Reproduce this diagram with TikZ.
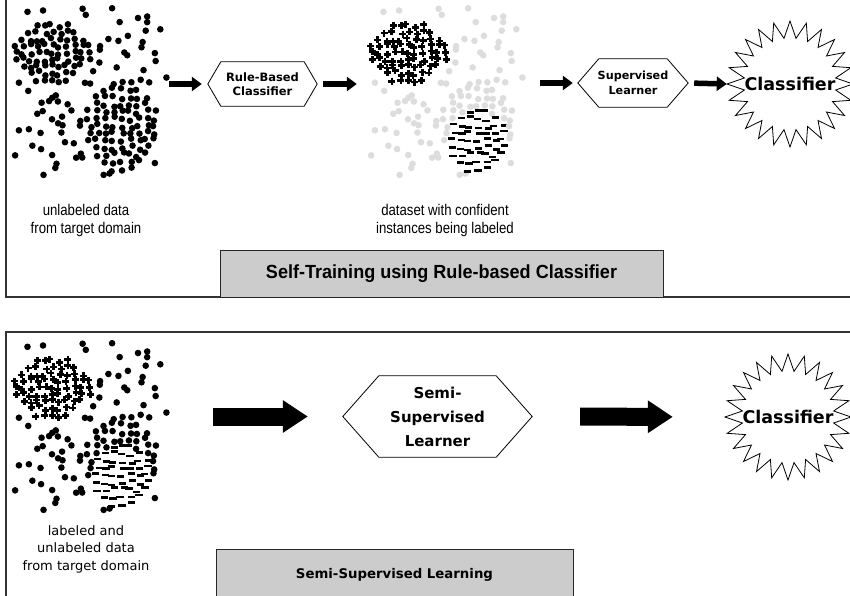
\documentclass[tikz,border=0pt]{standalone}
\usepackage{fontspec}
\setmainfont{DejaVu Sans}
\newfontfamily\narrowfont[FakeStretch=0.85]{Liberation Sans}
\newfontfamily\arialfont[FakeStretch=0.95]{Liberation Sans}
\usetikzlibrary{arrows.meta,shapes.geometric}
\definecolor{boxgray}{HTML}{CCCCCC}
\definecolor{dotgray}{HTML}{DDDDDD}
\definecolor{framecol}{HTML}{333333}
\tikzset{
  pdot/.pic={\fill[black] (0,0) circle (3.3pt);},
  pgray/.pic={\fill[dotgray] (0,0) circle (3.3pt);},
  pplus/.pic={\draw[black,line width=2.7pt] (-3.5,0) -- (3.5,0) (0,-3.5) -- (0,3.5);},
  pminus/.pic={\draw[black,line width=2.6pt] (-3.6,0) -- (3.6,0);},
  region/.style={rectangle,draw=none,inner sep=0pt,minimum width=158pt,minimum height=170pt},
  hexnode/.style={draw=none,inner sep=0pt,align=center,font=\bfseries},
  hexline/.style={draw=black,line width=0.8pt},
  starnode/.style={circle,minimum size=126pt,inner sep=0pt,draw=none,font=\fontsize{17.5}{20}\selectfont\bfseries},
  starline/.style={draw=black,line width=0.8pt,line join=miter},
  smallarrow/.style={line width=5.5pt,-{Triangle[length=10pt,width=14pt]}},
  bigarrow/.style={line width=18pt,-{Triangle[length=25pt,width=31pt]}},
  frameline/.style={draw=framecol,line width=1.4pt},
  titlebox/.style={rectangle,draw=black!85,line width=1pt,fill=boxgray,inner sep=0pt},
  lbl/.style={align=center,inner sep=0pt},
}
\newcommand\hexdraw[2]{\draw[hexline] (#1.west) -- ([xshift=#2]#1.north west) -- ([xshift=-#2]#1.north east) -- (#1.east) -- ([xshift=-#2]#1.south east) -- ([xshift=#2]#1.south west) -- cycle;}
\newcommand\stardraw[1]{\draw[starline] ([shift={(0:63)}]#1.center) \foreach \a [evaluate=\a as \r using {ifthenelse(mod(\a,2)==1,46,63)}] in {1,...,47} { -- ([shift={(\a*7.5:\r)}]#1.center)} -- cycle;}
% #1 xoff, #2 yoff, #3 background pic, #4 cluster A pic, #5 cluster B labeled pic, #6 cluster B unlabeled pic
\newcommand\drawscatter[6]{%
  \pgfmathsetseed{31415}%
  \foreach \k in {1,...,110}{%
    \pgfmathsetmacro\px{12+156*rnd}%
    \pgfmathsetmacro\py{8+167*rnd}%
    \pgfmathtruncatemacro\inA{((\px-52)/46)^2+((\py-53)/38)^2<1}%
    \pgfmathtruncatemacro\inB{((\px-122)/40)^2+((\py-126)/49)^2<1}%
    \ifnum\numexpr\inA+\inB\relax=0
      \pic at (#1+\px,#2+\py) {#3};
    \fi
  }%
  \foreach \i in {-5,...,5}{%
    \foreach \j in {-5,...,5}{%
      \pgfmathsetmacro\px{52+7.4*\i+2.4*rand}%
      \pgfmathsetmacro\py{53+6.7*\j+2.4*rand}%
      \pgfmathtruncatemacro\inn{(\i/5.2)^2+(\j/4.6)^2<=1}%
      \ifnum\inn=1
        \pic at (#1+\px,#2+\py) {#4};
      \fi
    }%
  }%
  \foreach \i in {-4,...,4}{%
    \foreach \j in {-6,...,6}{%
      \pgfmathsetmacro\px{122+8.2*\i+2.4*rand}%
      \pgfmathsetmacro\py{126+7.2*\j+2.4*rand}%
      \pgfmathtruncatemacro\inn{(\i/4.4)^2+(\j/6.2)^2<=1}%
      \pgfmathtruncatemacro\lab{(\i/3.8)^2+((\j-2)/4.3)^2<=1}%
      \ifnum\inn=1
        \ifnum\lab=1
          \pic at (#1+\px,#2+\py) {#5};
        \else
          \pic at (#1+\px,#2+\py) {#6};
        \fi
      \fi
    }%
  }%
}
\begin{document}
\begin{tikzpicture}[x=1pt,y=-1pt]
\useasboundingbox (0,0) rectangle (850,596);
\clip (0,0) rectangle (850,596);
\fill[white] (0,0) rectangle (850,596);

% ---------- frames ----------
\draw[frameline] (6,-5) -- (6,297) -- (860,297);
\draw[frameline] (860,332) -- (6,332) -- (6,610);

% ---------- top panel ----------
\node[region] (d1) at (87,91) {};
\node[region] (d2) at (443,91) {};
\drawscatter{0}{0}{pdot}{pdot}{pdot}{pdot}
\drawscatter{356}{0}{pgray}{pplus}{pminus}{pgray}

\node[hexnode,minimum width=109pt,minimum height=44pt,font=\fontsize{11.5}{14.5}\selectfont\bfseries] (h1) at (262.5,84) {Rule-Based\\Classifier};
\hexdraw{h1}{13pt}
\node[hexnode,minimum width=110pt,minimum height=48pt,font=\fontsize{11.2}{15}\selectfont\bfseries] (h2) at (633,83) {Supervised\\Learner};
\hexdraw{h2}{21pt}
\node[starnode] (s1) at (790,84) {Classifier};
\stardraw{s1}

\draw[smallarrow,shorten <=3pt,shorten >=6pt] (d1.east |- h1.west) -- (h1.west);
\draw[smallarrow,shorten <=6pt,shorten >=7pt] (h1.east) -- (d2.west |- h1.east);
\draw[smallarrow,shorten <=18pt,shorten >=5pt] (d2.east |- h2.west) -- (h2.west);
\draw[smallarrow,shorten <=6pt] (h2.east) -- (s1.west);

\node[lbl,font=\narrowfont\fontsize{15.5}{18}\selectfont] (l1) at (86,220) {unlabeled data\\from target domain};
\node[lbl,font=\narrowfont\fontsize{15.5}{18}\selectfont] (l2) at (445,220) {dataset with confident\\instances being labeled};

\node[titlebox,minimum width=443pt,minimum height=47pt,font=\arialfont\fontsize{19}{22}\selectfont\bfseries] (t1) at (441.5,273.5) {Self-Training using Rule-based Classifier};

% ---------- bottom panel ----------
\node[region] (d3) at (87,426) {};
\drawscatter{0}{335}{pdot}{pplus}{pminus}{pdot}

\node[hexnode,minimum width=189pt,minimum height=81pt,font=\fontsize{15}{24}\selectfont\bfseries] (h3) at (437.5,416.5) {Semi-\\Supervised\\Learner};
\hexdraw{h3}{36pt}
\node[starnode] (s2) at (788,417) {Classifier};
\stardraw{s2}

\draw[bigarrow,shorten <=47pt,shorten >=35pt] (d3.east |- h3.west) -- (h3.west);
\draw[bigarrow,shorten <=48pt,shorten >=52pt] (h3.east) -- (s2.west);

\node[lbl,font=\fontsize{13}{17.5}\selectfont] (l3) at (86,549) {labeled and\\unlabeled data\\from target domain};

\node[titlebox,minimum width=357pt,minimum height=52pt,font=\fontsize{13.3}{16}\selectfont\bfseries] (t2) at (394.5,575) {\raisebox{3pt}{Semi-Supervised Learning}};
\end{tikzpicture}
\end{document}
